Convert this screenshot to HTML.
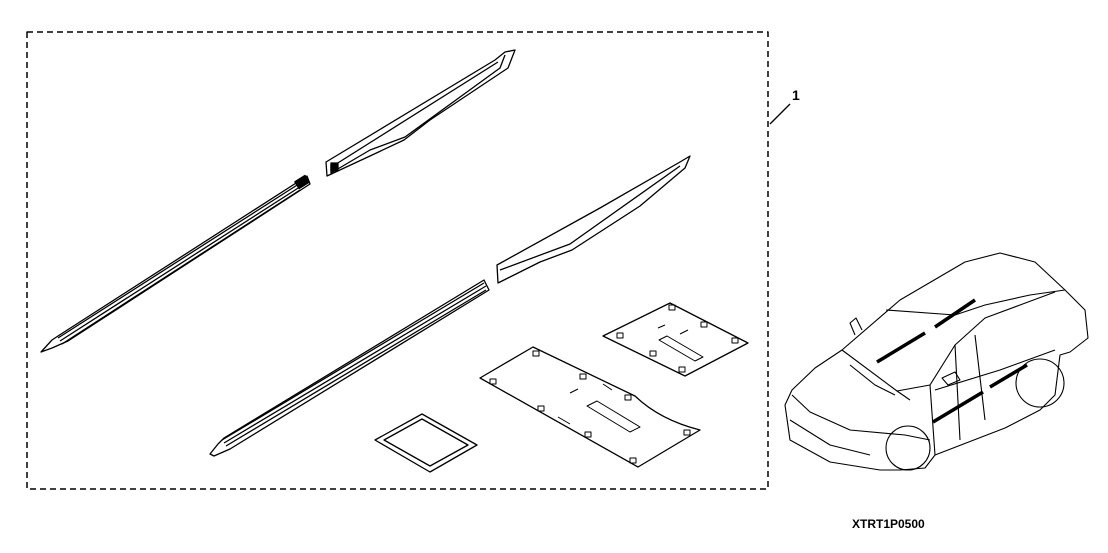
<!DOCTYPE html>
<html><head><style>html,body{margin:0;padding:0;background:#fff;width:1108px;height:553px;overflow:hidden}</style></head>
<body>
<svg width="1108" height="553" viewBox="0 0 1108 553" xmlns="http://www.w3.org/2000/svg" fill="none" stroke="#000" stroke-width="1.3" stroke-linejoin="round">
<rect x="27" y="32" width="741" height="457" stroke-dasharray="6,4" stroke-width="1.5"/>
<line x1="790" y1="104" x2="770" y2="124"/>
<text x="792" y="100" font-family="Liberation Sans, sans-serif" font-size="14" font-weight="bold" fill="#000" stroke="none">1</text>
<text x="852" y="528" font-family="Liberation Sans, sans-serif" font-size="12" font-weight="bold" fill="#000" stroke="none">XTRT1P0500</text>
<path d="M41,352 L52,340 L58,336 L307,176 L310,184 L68,341 L52,348 Z"/>
<path d="M58,338 L305,180 M60,341 L306,183 M62,344 L300,190"/>
<rect x="296" y="178" width="12" height="8" fill="#000" transform="rotate(-32 302 182)"/>
<path d="M326,162 L327,176 L370,156 L404,140 L430,120 L508,68 L515,50 L505,52 L495,60 Z"/>
<path d="M331,165 L331,173 L370,150 L405,137 L500,68 L505,55 M333,166 L498,62"/>
<rect x="331" y="163" width="7" height="8" fill="#000"/>
<path d="M497,265 L498,283 L540,262 L572,250 L640,206 L685,168 L690,156 L680,162 L600,208 Z"/>
<path d="M500,270 L570,244 L680,166"/>
<path d="M210,454 L218,444 L224,438 L484,280 L489,290 L230,449 L214,456 Z"/>
<path d="M222,440 L484,283 M224,443 L486,286 M226,446 L486,290"/>
<path d="M603,336 L670,303 L748,343 L685,376 Z"/>
<g stroke-width="1"><rect x="669" y="305" width="6" height="5"/><rect x="701" y="322" width="6" height="5"/><rect x="617" y="333" width="6" height="5"/><rect x="732" y="338" width="6" height="5"/><rect x="650" y="351" width="6" height="5"/><rect x="679" y="367" width="6" height="5"/>
<path d="M659,340 L667,336 L703,357 L695,361 Z"/><path d="M658,328 L665,325 M680,334 L688,330"/></g>
<path d="M480,378 L533,347 L635,396 Q660,420 700,430 L638,467 Z"/>
<g stroke-width="1"><rect x="490" y="379" width="6" height="5"/><rect x="533" y="351" width="6" height="5"/><rect x="580" y="374" width="6" height="5"/><rect x="625" y="395" width="6" height="5"/><rect x="538" y="406" width="6" height="5"/><rect x="585" y="432" width="6" height="5"/><rect x="630" y="458" width="6" height="5"/><rect x="684" y="430" width="6" height="5"/>
<path d="M587,406 L597,401 L640,427 L630,432 Z"/><path d="M570,393 L578,389 M558,417 L570,424 M603,384 L612,390"/></g>
<path d="M375,440 L422,414 L477,445 L430,472 Z"/>
<path d="M384,440 L422,419 L468,445 L430,466 Z"/>
<g stroke-width="1.1">
<path d="M785,405 L792,390 L815,368 L842,350 L900,300 L965,262 L1000,253 L1035,262 L1065,290 L1085,310 L1088,338 L1070,352 L1060,355 L1055,395 L1040,410 L1005,428 L935,455 L925,468 L900,470 L880,470 L830,462 L790,440 Z"/>
<path d="M842,350 L897,391 L910,400"/>
<path d="M886,310 L955,315 L985,305 L1030,295 L1065,290"/>
<path d="M897,391 L930,385 L955,345 L985,318 L1020,305 L1055,292"/>
<path d="M930,385 L935,455 M975,335 L985,420 M955,345 L960,440"/>
<path d="M792,395 L810,412 L850,430 L905,435 L930,440"/>
<path d="M790,420 L830,445 L870,455"/>
<path d="M935,390 L1000,370 L1055,350"/>
<circle cx="908" cy="448" r="22"/><circle cx="1040" cy="383" r="24"/>
<path d="M877,362 L925,333 M935,327 L975,300" stroke-width="3.5"/>
<path d="M933,422 L983,392 M990,387 L1027,365" stroke-width="3.5"/>
<path d="M855,335 L850,323 L856,318 L862,330"/>
<path d="M942,378 L955,372 L960,380 L948,385 Z"/>
<path d="M850,365 L875,385 L895,395"/>
</g>
</svg>
</body></html>
